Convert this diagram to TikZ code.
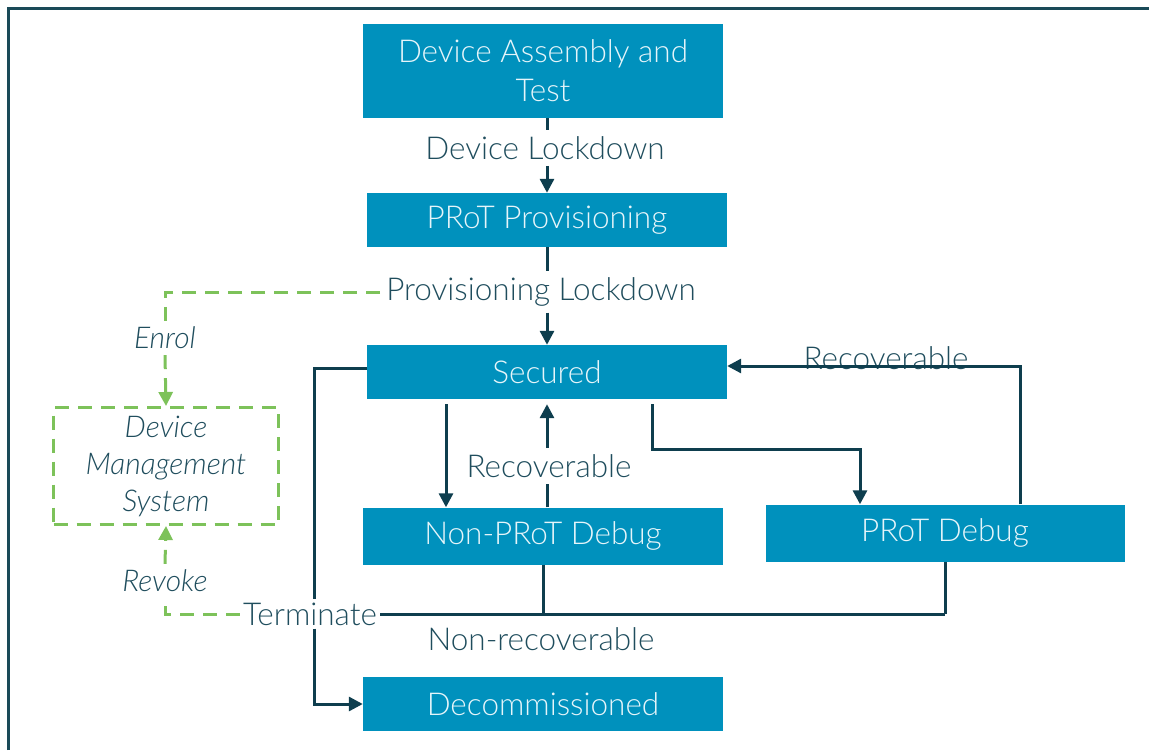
\documentclass[tikz,border=0pt]{standalone}
\usepackage{fontspec}
\setmainfont{Lato}[UprightFont=* Light, ItalicFont=* Light Italic]
\usetikzlibrary{arrows.meta}
\definecolor{boxfill}{HTML}{0091BD}
\definecolor{boxtext}{HTML}{E6F5FA}
\definecolor{linec}{HTML}{0E3E4E}
\definecolor{labelc}{HTML}{1F4D5D}
\definecolor{greenc}{HTML}{7DC25A}
\definecolor{framec}{HTML}{1A4A58}
\begin{document}
\begin{tikzpicture}[x=1pt,y=-1pt,
  state/.style={fill=boxfill, text=boxtext, minimum width=360pt, minimum height=54pt, inner sep=0pt, align=center, font=\fontsize{31.5}{39}\selectfont},
  lab/.style={text=labelc, inner sep=6pt, font=\fontsize{31.5}{37}\selectfont},
  ilab/.style={lab, font=\fontsize{30}{37}\selectfont\itshape},
  conn/.style={draw=linec, line width=3pt},
  arr/.style={conn, -{Triangle[length=14pt,width=14pt]}},
  gline/.style={draw=greenc, line width=3pt, dash pattern=on 14pt off 9pt},
  garr/.style={gline, -{Triangle[length=14pt,width=14pt]}},
]
\useasboundingbox (0,0) rectangle (1149,750);
\draw[framec, line width=3pt] (8,750) -- (8,8) -- (1149,8);

% states
\node[state, minimum height=94pt] (dat) at (543,71) {Device Assembly and\\Test};
\node[state] (prov) at (547,220) {PRoT Provisioning};
\node[state] (sec) at (547,372) {Secured};
\node[state, minimum height=57pt] (npd) at (543,536) {Non-PRoT Debug};
\node[state, minimum height=57pt, minimum width=359pt] (pd) at (945,533) {PRoT Debug};
\node[state] (dec) at (543,704) {Decommissioned};
\node[gline, minimum width=225pt, minimum height=117pt, inner sep=0pt, align=center, text=labelc, font=\fontsize{30}{37}\selectfont\itshape] (dms) at (166,466) {Device\\Management\\System};

% labels
\node[lab] (dl) at (545,148) {Device Lockdown};
\node[lab] (pl) at (541,292) {Provisioning Lockdown};
\node[ilab] (enrol) at (165,338) {Enrol};
\node[ilab] (revoke) at (165,581) {Revoke};
\node[lab, inner sep=3pt] (term) at (310,614) {Terminate};
\node[lab] (rec1) at (549,466) {Recoverable};
\node[lab] (rec2) at (886,358) {Recoverable};
\node[lab] (nonrec) at (541,639) {Non-recoverable};

\coordinate (xa) at (446,0);
\coordinate (xb) at (652,0);
\coordinate (xc) at (860,0);
\coordinate (xd) at (1020,0);
\coordinate (yb) at (0,449);
\coordinate (xt) at (314,0);

% main flow
\draw[conn] (dat.south -| prov) -- (dl.north -| prov);
\draw[arr] (dl.south -| prov) -- (prov.north);
\draw[conn] (prov.south) -- (pl.north -| prov);
\draw[arr] (pl.south -| prov) -- (sec.north);

% enrol / revoke
\draw[gline] (pl.west) -- (pl.west -| enrol) -- (enrol.north);
\draw[garr] (enrol.south) -- (dms.north);
\draw[gline] (term.west) -| (revoke.south);
\draw[garr] (revoke.north) -- (dms.south);

% secured <-> non-PRoT debug
\draw[arr, shorten <=5pt] (sec.south -| xa) -- (npd.north -| xa);
\draw[conn] (npd.north -| sec) -- (rec1.south -| sec);
\draw[arr, shorten >=5pt] (rec1.north -| sec) -- (sec.south);

% secured <-> PRoT debug
\draw[arr, shorten <=5pt] (sec.south -| xb) |- (yb -| xc) -- (pd.north -| xc);
\draw[arr] (pd.north -| xd) |- ([yshift=6pt]sec.east);

% terminate
\draw[conn] ([yshift=4pt]sec.west) -| (term.north -| xt);
\draw[arr] (term.south -| xt) |- (dec.west);
\draw[conn] (npd.south) -- (npd.south |- term.east);
\draw[conn] (pd.south) -- (pd.south |- term.east);
\draw[conn] (term.east) -- (pd.south |- term.east);
\end{tikzpicture}
\end{document}
